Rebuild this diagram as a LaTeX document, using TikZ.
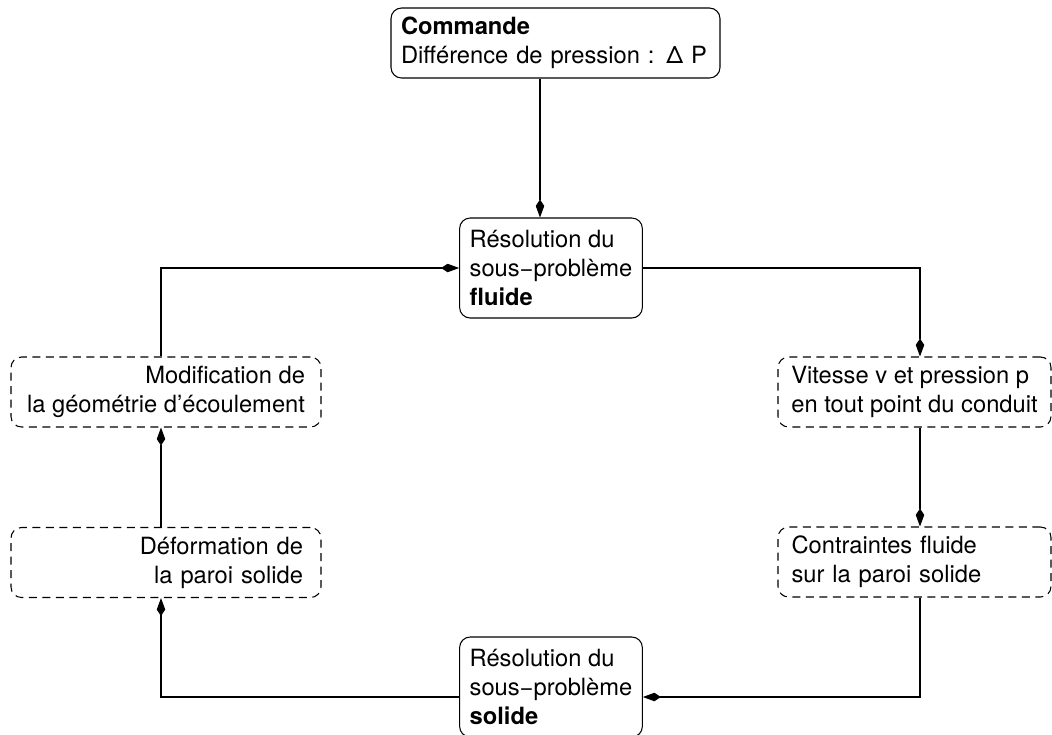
\documentclass[tikz,border=0pt]{standalone}
\usepackage{fontspec}
\setmainfont{TeX Gyre Heros}
\usepackage{tikz}
\usetikzlibrary{arrows.meta,positioning,calc}

\begin{document}
\begin{tikzpicture}[
  solver/.style={draw=black, rounded corners=6pt, line width=0.6pt,
    align=left, inner xsep=0.2cm, minimum width=3.6cm, minimum height=2.0cm,
    font=\fontsize{13.5}{16.6}\selectfont},
  command/.style={solver, text width=6.18cm, minimum width=6.58cm, minimum height=1.4cm},
  result/.style={draw=black, rounded corners=6pt, line width=0.6pt,
    dash pattern=on 0.16cm off 0.11cm, minimum height=1.4cm,
    font=\fontsize{13.5}{16.6}\selectfont},
  flow/.style={-{Kite[length=0.36cm, width=0.17cm, inset=0.13cm]}, line width=0.6pt, draw=black}
]
\useasboundingbox (0,0) rectangle (21.04,-14.68);

\node[command] (cmd) at (11.11,-0.86) {\textbf{Commande}\\Différence de pression : Δ P};
\node[solver] (fluide) at (11.02,-5.36) {Résolution du\\sous−problème\\\textbf{fluide}};
\node[solver] (solide) at (11.02,-13.74) {Résolution du\\sous−problème\\\textbf{solide}};
\node[result, align=right, minimum width=6.2cm] (modif) at (3.32,-7.84) {Modification de\\la géométrie d’écoulement};
\node[result, align=right, inner xsep=0.36cm, text width=5.48cm] (deform) at (3.32,-11.25) {Déformation de\\la paroi solide};
\node[result, align=left, minimum width=5.46cm] (vitesse) at (18.29,-7.84) {Vitesse v et pression p\\en tout point du conduit};
\node[result, align=left, inner xsep=0.27cm, text width=4.92cm] (contr) at (18.29,-11.24) {Contraintes fluide\\sur la paroi solide};

\coordinate (cmdtap) at ($(fluide.north)+(-0.22,0)$);
\coordinate (vittap) at ($(vitesse.north)+(0.11,0)$);
\coordinate (soltap) at ($(solide.east)+(0,-0.2)$);
\coordinate (deftap) at ($(deform.south)+(-0.1,0)$);

\draw[flow] (cmd.south -| cmdtap) -- (cmdtap);
\draw[flow] (fluide.east) -| (vittap);
\draw[flow] (vitesse.south -| vittap) -- (contr.north -| vittap);
\draw[flow] (contr.south -| vittap) |- (soltap);
\draw[flow] (soltap -| solide.west) -| (deftap);
\draw[flow] (deform.north -| deftap) -- (modif.south -| deftap);
\draw[flow] (modif.north -| deftap) |- (fluide.west);
\end{tikzpicture}
\end{document}
